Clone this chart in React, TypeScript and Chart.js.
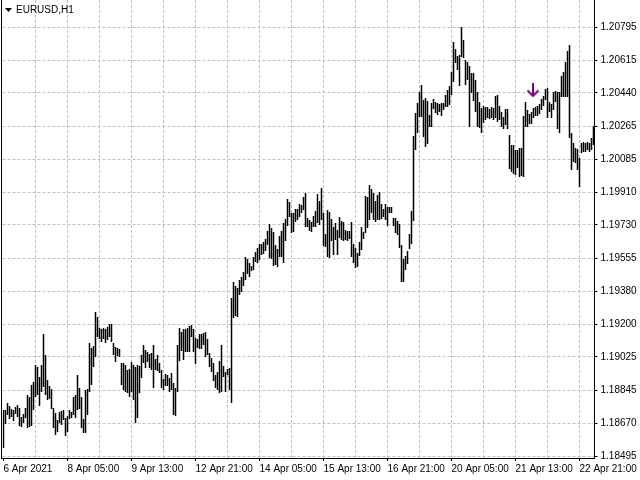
import React, { useEffect, useRef } from "react";
import { Chart, registerables } from "chart.js";

Chart.register(...registerables);

const chartTitle = "EURUSD,H1";

const xTickLabels = [
  "6 Apr 2021", "8 Apr 05:00", "9 Apr 13:00", "12 Apr 21:00", "14 Apr 05:00",
  "15 Apr 13:00", "16 Apr 21:00", "20 Apr 05:00", "21 Apr 13:00", "22 Apr 21:00",
];
const barsPerXLabel = 32;
const barsPerXGrid = 16;

const yTickValues = [
  1.18495, 1.186719, 1.188488, 1.190258, 1.192027, 1.193796, 1.195565,
  1.197335, 1.199104, 1.200873, 1.202642, 1.204412, 1.206181, 1.20795,
];
const yTickLabels = [
  "1.18495", "1.18670", "1.18845", "1.19025", "1.19200", "1.19380", "1.19555",
  "1.19730", "1.19910", "1.20085", "1.20265", "1.20440", "1.20615", "1.20795",
];
const yMin = 1.184843;
const yMax = 1.209398;

const highs = [
  1.18742, 1.18742, 1.18779, 1.18763, 1.18747, 1.18742, 1.18758, 1.18769, 1.18752, 1.18704,
  1.18720, 1.18752, 1.18822, 1.18811, 1.18876, 1.18892, 1.18983, 1.18972, 1.18919, 1.18983,
  1.19149, 1.19036, 1.18902, 1.18870, 1.18854, 1.18752, 1.18726, 1.18688, 1.18731, 1.18736,
  1.18742, 1.18699, 1.18710, 1.18742, 1.18731, 1.18811, 1.18822, 1.18929, 1.18860, 1.18811,
  1.18693, 1.18849, 1.18854, 1.19101, 1.19074, 1.19085, 1.19267, 1.19240, 1.19181, 1.19176,
  1.19181, 1.19176, 1.19187, 1.19203, 1.19203, 1.19101, 1.19079, 1.19074, 1.19069, 1.18994,
  1.18994, 1.18983, 1.18956, 1.18961, 1.18999, 1.18983, 1.18972, 1.18983, 1.18978, 1.19036,
  1.19090, 1.19063, 1.19053, 1.19042, 1.19047, 1.19090, 1.19015, 1.19036, 1.18994, 1.18956,
  1.18908, 1.18935, 1.18929, 1.18913, 1.18940, 1.18886, 1.18860, 1.19090, 1.19181, 1.19160,
  1.19176, 1.19176, 1.19181, 1.19192, 1.19197, 1.19176, 1.19128, 1.19122, 1.19149, 1.19149,
  1.19154, 1.19160, 1.19122, 1.19047, 1.19020, 1.18994, 1.18929, 1.18945, 1.19004, 1.19090,
  1.18978, 1.18945, 1.18961, 1.18967, 1.19342, 1.19428, 1.19406, 1.19396, 1.19439, 1.19455,
  1.19481, 1.19562, 1.19551, 1.19530, 1.19514, 1.19562, 1.19589, 1.19610, 1.19632, 1.19632,
  1.19642, 1.19658, 1.19701, 1.19739, 1.19717, 1.19696, 1.19626, 1.19605, 1.19675, 1.19701,
  1.19744, 1.19766, 1.19873, 1.19857, 1.19798, 1.19798, 1.19819, 1.19819, 1.19846, 1.19841,
  1.19884, 1.19905, 1.19771, 1.19760, 1.19750, 1.19782, 1.19809, 1.19900, 1.19862, 1.19932,
  1.19798, 1.19685, 1.19814, 1.19803, 1.19766, 1.19723, 1.19744, 1.19707, 1.19776, 1.19755,
  1.19750, 1.19707, 1.19701, 1.19701, 1.19750, 1.19632, 1.19610, 1.19583, 1.19642, 1.19723,
  1.19696, 1.19889, 1.19884, 1.19948, 1.19927, 1.19905, 1.19862, 1.19894, 1.19910, 1.19846,
  1.19819, 1.19846, 1.19830, 1.19830, 1.19830, 1.19771, 1.19771, 1.19755, 1.19739, 1.19626,
  1.19551, 1.19567, 1.19594, 1.19685, 1.19809, 1.20211, 1.20334, 1.20388, 1.20447, 1.20484,
  1.20404, 1.20414, 1.20398, 1.20323, 1.20388, 1.20409, 1.20393, 1.20388, 1.20382, 1.20388,
  1.20388, 1.20430, 1.20457, 1.20479, 1.20554, 1.20715, 1.20677, 1.20640, 1.20645, 1.20795,
  1.20725, 1.20618, 1.20607, 1.20586, 1.20548, 1.20548, 1.20511, 1.20447, 1.20393, 1.20361,
  1.20372, 1.20366, 1.20366, 1.20355, 1.20366, 1.20361, 1.20425, 1.20430, 1.20372, 1.20339,
  1.20313, 1.20355, 1.20355, 1.20216, 1.20162, 1.20162, 1.20136, 1.20136, 1.20146, 1.20146,
  1.20318, 1.20393, 1.20350, 1.20329, 1.20339, 1.20361, 1.20366, 1.20372, 1.20382, 1.20409,
  1.20425, 1.20463, 1.20468, 1.20393, 1.20382, 1.20447, 1.20452, 1.20447, 1.20447, 1.20532,
  1.20554, 1.20607, 1.20666, 1.20699, 1.20227, 1.20173, 1.20146, 1.20141, 1.20093, 1.20173,
  1.20178, 1.20173, 1.20178, 1.20173, 1.20200, 1.20264,
];

const lows = [
  1.18538, 1.18667, 1.18715, 1.18693, 1.18704, 1.18683, 1.18720, 1.18704, 1.18656, 1.18650,
  1.18672, 1.18699, 1.18645, 1.18650, 1.18656, 1.18742, 1.18811, 1.18822, 1.18763, 1.18838,
  1.18865, 1.18822, 1.18795, 1.18801, 1.18747, 1.18645, 1.18608, 1.18624, 1.18672, 1.18661,
  1.18688, 1.18602, 1.18624, 1.18693, 1.18699, 1.18715, 1.18699, 1.18742, 1.18747, 1.18645,
  1.18618, 1.18618, 1.18715, 1.18838, 1.18876, 1.18972, 1.19026, 1.19133, 1.19122, 1.19106,
  1.19122, 1.19101, 1.19117, 1.19133, 1.19106, 1.19036, 1.18999, 1.19031, 1.19026, 1.18876,
  1.18849, 1.18838, 1.18833, 1.18811, 1.18838, 1.18795, 1.18672, 1.18699, 1.18833, 1.18913,
  1.18994, 1.18967, 1.18999, 1.18967, 1.18956, 1.18860, 1.18956, 1.18951, 1.18940, 1.18860,
  1.18849, 1.18870, 1.18870, 1.18838, 1.18849, 1.18715, 1.18710, 1.18838, 1.19004, 1.19058,
  1.19010, 1.19053, 1.19053, 1.19053, 1.19133, 1.19053, 1.18988, 1.19074, 1.19069, 1.19069,
  1.19090, 1.19026, 1.19036, 1.18972, 1.18945, 1.18897, 1.18860, 1.18849, 1.18833, 1.18838,
  1.18919, 1.18838, 1.18929, 1.18849, 1.18779, 1.19235, 1.19246, 1.19240, 1.19358, 1.19374,
  1.19406, 1.19439, 1.19471, 1.19455, 1.19487, 1.19492, 1.19535, 1.19530, 1.19546, 1.19573,
  1.19578, 1.19594, 1.19626, 1.19557, 1.19551, 1.19514, 1.19519, 1.19508, 1.19562, 1.19562,
  1.19530, 1.19648, 1.19728, 1.19776, 1.19691, 1.19696, 1.19750, 1.19760, 1.19776, 1.19798,
  1.19814, 1.19723, 1.19723, 1.19701, 1.19696, 1.19723, 1.19723, 1.19744, 1.19734, 1.19760,
  1.19621, 1.19616, 1.19562, 1.19557, 1.19648, 1.19573, 1.19653, 1.19573, 1.19664, 1.19653,
  1.19648, 1.19653, 1.19648, 1.19658, 1.19562, 1.19530, 1.19503, 1.19508, 1.19567, 1.19600,
  1.19658, 1.19691, 1.19717, 1.19760, 1.19798, 1.19760, 1.19750, 1.19760, 1.19760, 1.19766,
  1.19776, 1.19760, 1.19728, 1.19798, 1.19798, 1.19728, 1.19691, 1.19680, 1.19610, 1.19428,
  1.19428, 1.19492, 1.19524, 1.19605, 1.19632, 1.19755, 1.20136, 1.20227, 1.20313, 1.20313,
  1.20205, 1.20152, 1.20168, 1.20259, 1.20259, 1.20355, 1.20334, 1.20323, 1.20339, 1.20318,
  1.20350, 1.20366, 1.20366, 1.20377, 1.20430, 1.20500, 1.20602, 1.20565, 1.20479, 1.20634,
  1.20629, 1.20484, 1.20511, 1.20259, 1.20441, 1.20398, 1.20339, 1.20259, 1.20253, 1.20227,
  1.20280, 1.20296, 1.20307, 1.20302, 1.20307, 1.20296, 1.20307, 1.20286, 1.20296, 1.20259,
  1.20248, 1.20270, 1.20248, 1.20034, 1.20018, 1.20007, 1.20002, 1.20039, 1.19991, 1.19996,
  1.19991, 1.20259, 1.20259, 1.20275, 1.20275, 1.20307, 1.20318, 1.20318, 1.20329, 1.20350,
  1.20372, 1.20404, 1.20307, 1.20339, 1.20307, 1.20350, 1.20393, 1.20248, 1.20227, 1.20420,
  1.20420, 1.20420, 1.20420, 1.20200, 1.20028, 1.20071, 1.20066, 1.20028, 1.19937, 1.20120,
  1.20125, 1.20125, 1.20136, 1.20125, 1.20136, 1.20162,
];

const signalIndex = 265;
const signalPrice = 1.20455;

const FONT = '"Liberation Sans", Arial, sans-serif';

export default function App() {
  const ref = useRef<HTMLCanvasElement>(null);

  useEffect(() => {
    const canvas = ref.current;
    if (!canvas) return;

    const arrow = document.createElement("canvas");
    arrow.width = 13;
    arrow.height = 14;
    const g = arrow.getContext("2d")!;
    g.strokeStyle = "#800080";
    g.lineWidth = 2;
    g.beginPath();
    g.moveTo(6, 0);
    g.lineTo(6, 13);
    g.stroke();
    g.beginPath();
    g.moveTo(0.5, 7);
    g.lineTo(6, 12.5);
    g.lineTo(11.5, 7);
    g.stroke();

    const labels = highs.map((_, i) => String(i));
    const ranges = highs.map((h, i) => [lows[i], h]);
    const signal = highs.map((_, i) => (i === signalIndex ? signalPrice : null));

    const frame = {
      id: "frame",
      afterDraw(chart: any) {
        const { ctx, chartArea } = chart;
        ctx.save();
        ctx.strokeStyle = "#000";
        ctx.lineWidth = 1;
        ctx.beginPath();
        ctx.moveTo(chartArea.left - 1, chartArea.top);
        ctx.lineTo(chartArea.left - 1, chartArea.bottom + 1);
        ctx.stroke();
        ctx.fillStyle = "#000";
        ctx.beginPath();
        ctx.moveTo(5, 8);
        ctx.lineTo(12, 8);
        ctx.lineTo(8.5, 12);
        ctx.closePath();
        ctx.fill();
        ctx.font = "10px " + FONT;
        ctx.textBaseline = "middle";
        ctx.textAlign = "left";
        ctx.fillText(chartTitle, 16, 10.5);
        ctx.restore();
      },
    };

    Chart.defaults.color = "#000";

    const chart = new Chart(canvas, {
      type: "bar",
      data: {
        labels,
        datasets: [
          {
            type: "line",
            data: signal as any,
            showLine: false,
            pointStyle: arrow as any,
            pointRadius: 6,
            order: 1,
          } as any,
          {
            type: "bar",
            data: ranges as any,
            backgroundColor: "#000",
            borderWidth: 0,
            barThickness: 1.5,
            inflateAmount: 0,
            order: 2,
          } as any,
        ],
      },
      options: {
        animation: false,
        responsive: false,
        devicePixelRatio: 1,
        layout: { padding: { left: 2.5, right: 0, top: 0, bottom: 0 }, autoPadding: false },
        plugins: { legend: { display: false }, tooltip: { enabled: false }, title: { display: false } },
        events: [],
        scales: {
          x: {
            type: "category",
            offset: true,
            grid: {
              offset: false,
              drawOnChartArea: true,
              color: (c: any) => (c.index % barsPerXGrid === 0 && c.index > 0 ? "#c0c0c0" : "rgba(0,0,0,0)"),
              tickColor: (c: any) => (c.index % barsPerXLabel === 0 ? "#000" : "rgba(0,0,0,0)"),
              tickLength: 3,
              lineWidth: 1,
            },
            border: { display: true, color: "#000", width: 1, dash: [3, 2] },
            ticks: {
              autoSkip: false,
              maxRotation: 0,
              minRotation: 0,
              align: "start",
              padding: 2,
              font: { family: FONT, size: 10 },
              color: "#000",
              callback: (_v: any, index: number) =>
                index % barsPerXLabel === 0 ? xTickLabels[index / barsPerXLabel] ?? "" : "",
            },
            afterFit: (scale: any) => {
              scale.height = 22;
              scale.paddingLeft = 0;
              scale.paddingRight = 0;
            },
          },
          y: {
            type: "linear",
            position: "right",
            min: yMin,
            max: yMax,
            bounds: "data",
            grid: { color: "#c0c0c0", tickColor: "#000", tickLength: 3, lineWidth: 1 },
            border: { display: true, color: "#000", width: 1, dash: [3, 2] },
            ticks: {
              autoSkip: false,
              padding: 3,
              font: { family: FONT, size: 10 },
              color: "#000",
              callback: (_v: any, index: number) => yTickLabels[index] ?? "",
            },
            afterBuildTicks: (scale: any) => {
              scale.ticks = yTickValues.map((v) => ({ value: v }));
            },
            afterFit: (scale: any) => {
              scale.width = 45.5;
              scale.paddingTop = 0;
              scale.paddingBottom = 0;
            },
          },
        },
      } as any,
      plugins: [frame],
    });

    return () => chart.destroy();
  }, []);

  return (
    <div style={{ position: "fixed", left: 0, top: 0, width: 640, height: 480, background: "#fff" }}>
      <canvas ref={ref} width={640} height={480} style={{ display: "block", width: 640, height: 480 }} />
    </div>
  );
}
